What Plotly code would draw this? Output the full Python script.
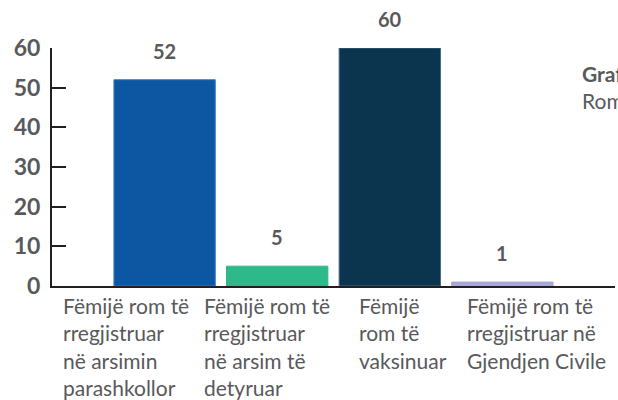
import plotly.graph_objects as go

categories = [
    "Fëmijë rom të<br>rregjistruar<br>në arsimin<br>parashkollor",
    "Fëmijë rom të<br>rregjistruar<br>në arsim të<br>detyruar",
    "Fëmijë<br>rom të<br>vaksinuar",
    "Fëmijë rom të<br>rregjistruar në<br>Gjendjen Civile",
]
values = [52, 5, 60, 1]
y_ticks = [0, 10, 20, 30, 40, 50, 60]
side_title = "<b>Grafiku</b><br>Romët"

colors = ["#0d56a1", "#2db98a", "#0b344f", "#a7a8d8"]
edge_colors = ["#3b7cc2", "#2db98a", "#4a6a82", "#a7a8d8"]
label_shift = [-104, -75, -33, -37]
TEXT = "#58595b"
FONT = "Lato"

xpos = list(range(len(values)))

fig = go.Figure()
fig.add_trace(go.Bar(
    x=xpos, y=values, width=0.9,
    marker=dict(color=colors, line=dict(color=edge_colors, width=1)),
    hoverinfo="skip",
))

for i, v in enumerate(values):
    fig.add_annotation(x=i, y=v, xref="x", yref="y", text=f"<b>{v}</b>",
                       showarrow=False, yanchor="bottom", yshift=15,
                       font=dict(family=FONT, size=20, color=TEXT))

for i, c in enumerate(categories):
    fig.add_annotation(x=i, y=0, xref="x", yref="y", text=c, align="left",
                       showarrow=False, xanchor="left", yanchor="top",
                       xshift=label_shift[i], yshift=-5,
                       font=dict(family=FONT, size=21, color=TEXT))

fig.add_annotation(x=0.938, y=0.955, xref="paper", yref="paper", text=side_title,
                   align="left", showarrow=False, xanchor="left", yanchor="top",
                   font=dict(family=FONT, size=21, color=TEXT))

fig.update_layout(
    width=618, height=400,
    margin=dict(l=52, r=3, t=48, b=114),
    paper_bgcolor="white", plot_bgcolor="white",
    showlegend=False,
    font=dict(family=FONT, color=TEXT),
    xaxis=dict(range=[-1, 4], showgrid=False, zeroline=False,
               showline=True, linecolor="#231f20", linewidth=2,
               tickvals=[4], ticks="inside", ticklen=6, tickwidth=2,
               tickcolor="#231f20", showticklabels=False, fixedrange=True),
    yaxis=dict(range=[0, 60], tickvals=y_ticks, showgrid=False, zeroline=False,
               showline=True, linecolor="#231f20", linewidth=2,
               ticks="inside", ticklen=14, tickwidth=2, tickcolor="#231f20",
               ticklabelstandoff=5,
               tickfont=dict(family=FONT, size=23, color=TEXT, weight="bold"),
               fixedrange=True),
)

fig.write_html("out.html", config={"displayModeBar": False},
               post_script="document.body.style.margin='0';document.body.style.overflow='hidden';")
